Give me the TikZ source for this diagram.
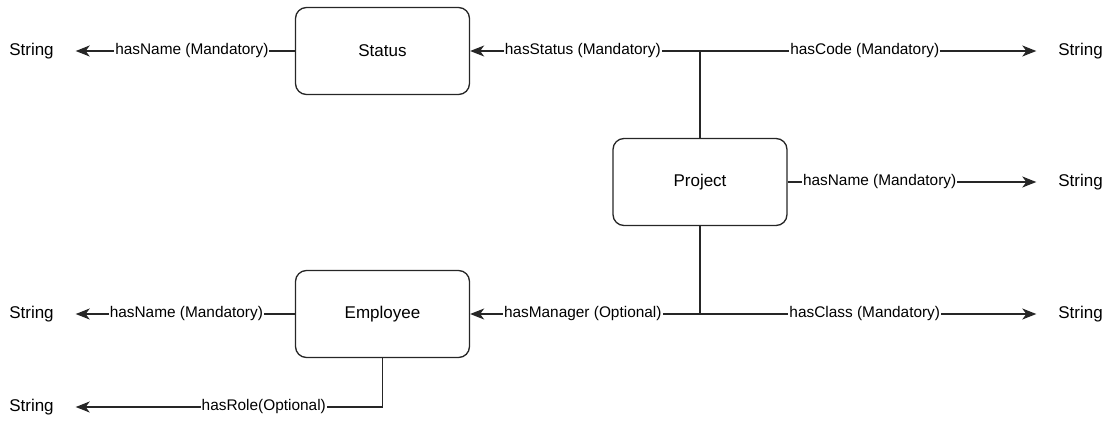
\documentclass[tikz,border=0pt]{standalone}
\usepackage{fontspec}
\setmainfont{Liberation Sans}
\usetikzlibrary{arrows.meta}
\begin{document}
\begin{tikzpicture}[x=1pt,y=-1pt,
  entity/.style={draw=black!85, line width=1.3pt, rounded corners=11pt,
    minimum width=174pt, minimum height=87pt, inner sep=0pt,
    font=\fontsize{17}{20}\selectfont},
  literal/.style={inner xsep=0pt, outer xsep=22pt,
    font=\fontsize{17}{20}\selectfont},
  link/.style={draw=black!85, line width=1.3pt},
  rel/.style={link, -{Stealth[length=14pt,width=11pt,inset=4pt]}},
  lbl/.style={fill=white, inner xsep=1pt, inner ysep=2pt,
    font=\fontsize{15.4}{18}\selectfont}]
  \useasboundingbox (0,0) rectangle (1112,421);

  % classes
  \node[entity] (status)   at (382.5,51)  {Status};
  \node[entity] (project)  at (700,182)   {Project};
  \node[entity] (employee) at (382.5,314) {Employee};

  % literal values
  \node[literal] (sName)   at (31.5,51)   {String};
  \node[literal] (eName)   at (31.5,314)  {String};
  \node[literal] (eRole)   at (31.5,407)  {String};
  \node[literal] (pCode)   at (1080.5,51) {String};
  \node[literal] (pName)   at (1080.5,182){String};
  \node[literal] (pClass)  at (1080.5,314){String};

  % branch points above and below Project
  \coordinate (jTop) at (project.north |- status.east);
  \coordinate (jBot) at (project.south |- employee.east);
  \coordinate (roleBend) at (employee.south |- eRole.east);

  % Status
  \draw[rel] (status.west) -- node[lbl,pos=0.47]{hasName (Mandatory)} (sName.east);

  % Project
  \draw[link] (project.north) -- (jTop);
  \draw[rel] (jTop) -- node[lbl,pos=0.51]{hasStatus (Mandatory)} (status.east);
  \draw[rel] (jTop) -- node[lbl,pos=0.49]{hasCode (Mandatory)} (pCode.west);
  \draw[rel] (project.east) -- node[lbl,pos=0.37]{hasName (Mandatory)} (pName.west);
  \draw[link] (project.south) -- (jBot);
  \draw[rel] (jBot) -- node[lbl,pos=0.51]{hasManager (Optional)} (employee.east);
  \draw[rel] (jBot) -- node[lbl,pos=0.49]{hasClass (Mandatory)} (pClass.west);

  % Employee
  \draw[rel] (employee.west) -- node[lbl,pos=0.495]{hasName (Mandatory)} (eName.east);
  \draw[link] (employee.south) -- (roleBend);
  \draw[rel] (roleBend) -- node[lbl,pos=0.387]{hasRole(Optional)} (eRole.east);
\end{tikzpicture}
\end{document}
